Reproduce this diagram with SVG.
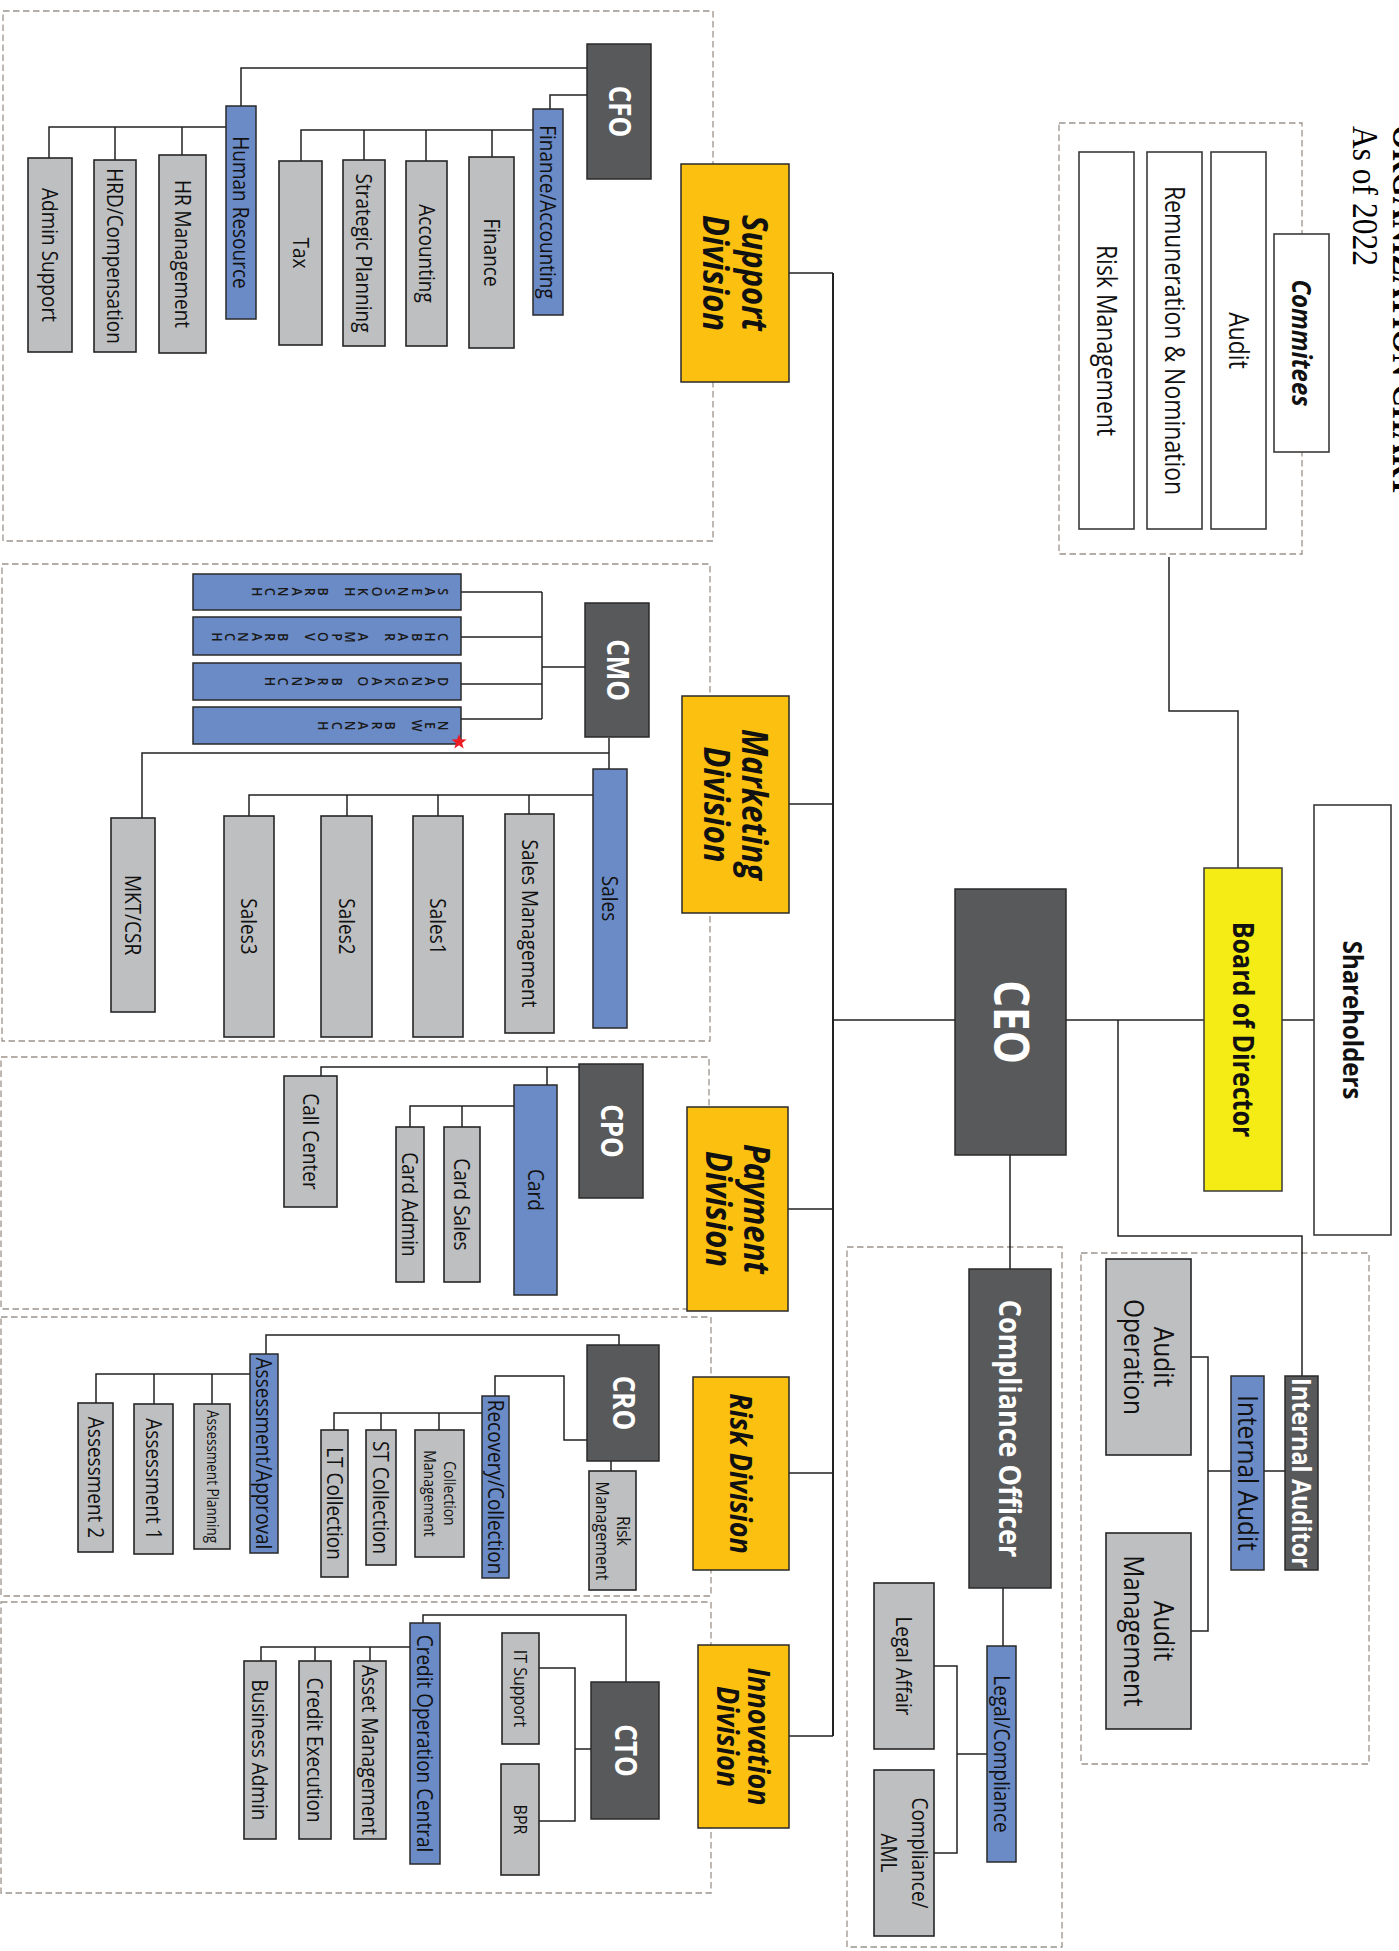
<svg xmlns="http://www.w3.org/2000/svg" width="1399" height="1951" viewBox="0 0 1399 1951">
<style>
.dash{fill:none;stroke:#9d938b;stroke-width:1.3;stroke-dasharray:6.5 3.5}
.gr{fill:#bebfc1;stroke:#262626;stroke-width:1.6}
.bl{fill:#6b8bc6;stroke:#2a2a2a;stroke-width:1.5}
.dk{fill:#58595b;stroke:#2a2a2a;stroke-width:1.5}
.dv{fill:#fcc011;stroke:#2a2a2a;stroke-width:1.5}
.yl{fill:#f6ec15;stroke:#3a3a3a;stroke-width:1.5}
.wh{fill:#ffffff;stroke:#3a3a3a;stroke-width:1.6}
.cn{fill:none;stroke:#222;stroke-width:1.5}
.tr{fill:none;stroke:#222;stroke-width:2}
text{font-family:"Open Sans","Noto Sans","DejaVu Sans",sans-serif;text-anchor:middle;fill:#111}
.t{font-size:19px}
.s23{font-size:23px}
.s24{font-size:24.5px}
.s16{font-size:16px}
.s14{font-size:14px}
.s13{font-size:13.5px}
.br{font-size:12.5px;font-weight:600;fill:#1a1a1a}
.tc{font-size:26px;font-weight:700;fill:#fff}
.tceo{font-size:42px;font-weight:700;fill:#fff}
.tco{font-size:27px;font-weight:700;fill:#fff}
.tia{font-size:23.5px;font-weight:700;fill:#fff}
.tv{font-size:31px;font-weight:700;font-style:italic}
.tv27{font-size:27px;font-weight:700;font-style:italic}
.tbd{font-size:25px;font-weight:700}
.tsh{font-size:24px;font-weight:700}
.tcm{font-size:24px;font-weight:700;font-style:italic}
.serif{font-family:"Liberation Serif","Times New Roman",serif;text-anchor:start;fill:#000;font-size:31.5px}
</style>

<g id="title">
<text class="serif" font-weight="700" transform="translate(1393 125) rotate(90) scale(1 1.15)">ORGANIZATION CHART</text>
<text class="serif" transform="translate(1353 126) rotate(90) scale(1 1.15)">As of 2022</text>
</g>

<g id="regions">
<rect class="dash" x="3" y="11" width="710" height="530"/>
<rect class="dash" x="2" y="564" width="708" height="477"/>
<rect class="dash" x="1" y="1057" width="708" height="252"/>
<rect class="dash" x="1" y="1317" width="710" height="279"/>
<rect class="dash" x="1" y="1602" width="710" height="291"/>
<rect class="dash" x="1059" y="123" width="243" height="431"/>
<rect class="dash" x="847" y="1247" width="215" height="700"/>
<rect class="dash" x="1081" y="1253" width="288" height="511"/>
</g>

<g id="connectors">
<path class="tr" d="M833 273V1736"/>
<path class="cn" d="M587 68H241V106 M587 95H550V109 M533 130H301V161 M364 130V160 M426 130V161 M492 130V157 M226 127H49V158 M115 127V160 M182 127V155 M789 273H833"/>
<path class="cn" d="M461 592H542 M461 637H542 M461 684H542 M461 719H542 M542 592V719 M542 667H585 M609 738V769 M609 753H142V818 M593 795H249V816 M347 795V816 M438 795V816 M529 795V814 M789 804H833"/>
<path class="cn" d="M579 1067H321V1076 M547 1067V1085 M514 1106H410V1127 M462 1106V1127 M788 1209H833"/>
<path class="cn" d="M619 1345V1335H266V1354 M587 1440H564V1376H495V1396 M482 1413H334V1430 M381 1413V1430 M439 1413V1430 M611 1461V1471 M250 1374H96V1403 M154 1374V1404 M212 1374V1404 M789 1473H833"/>
<path class="cn" d="M626 1682V1615H423V1623 M591 1749H575 M539 1668H575V1821H539 M410 1647H261V1661 M315 1647V1661 M370 1647V1661 M789 1736H833"/>
<path class="cn" d="M833 1020H955 M1066 1020H1204 M1282 1020H1314 M1010 1155V1269 M1003 1588V1646 M987 1754H957 M934 1666H957V1853H934 M1169 557V711H1238V868 M1118 1020V1236H1302V1376 M1264 1471H1285 M1231 1471H1208 M1191 1357H1208V1631H1191"/>
</g>

<!-- Support -->
<g id="admin-support"><rect class="gr" x="28" y="158" width="44" height="194"/><text class="t" dy=".35em" transform="translate(50 255) rotate(90) scale(1 1.15)">Admin Support</text></g>
<g id="hrd-compensation"><rect class="gr" x="94" y="160" width="42" height="192"/><text class="t" dy=".35em" transform="translate(115 256) rotate(90) scale(1 1.15)">HRD/Compensation</text></g>
<g id="hr-management"><rect class="gr" x="159" y="155" width="47" height="198"/><text class="t" dy=".35em" transform="translate(182.5 254) rotate(90) scale(1 1.15)">HR Management</text></g>
<g id="human-resource"><rect class="bl" x="226" y="106" width="30" height="213"/><text class="t" dy=".35em" transform="translate(241 212.5) rotate(90) scale(1 1.15)">Human Resource</text></g>
<g id="tax"><rect class="gr" x="279" y="161" width="43" height="184"/><text class="t" dy=".35em" transform="translate(300.5 253) rotate(90) scale(1 1.15)">Tax</text></g>
<g id="strategic-planning"><rect class="gr" x="343" y="160" width="42" height="186"/><text class="t" dy=".35em" transform="translate(364 253) rotate(90) scale(1 1.15)">Strategic Planning</text></g>
<g id="accounting"><rect class="gr" x="406" y="161" width="41" height="185"/><text class="t" dy=".35em" transform="translate(426.5 253.5) rotate(90) scale(1 1.15)">Accounting</text></g>
<g id="finance"><rect class="gr" x="469" y="157" width="45" height="191"/><text class="t" dy=".35em" transform="translate(491.5 252.5) rotate(90) scale(1 1.15)">Finance</text></g>
<g id="finance-accounting"><rect class="bl" x="533" y="109" width="30" height="206"/><text class="t" dy=".35em" transform="translate(548 212) rotate(90) scale(1 1.15)">Finance/Accounting</text></g>
<g id="cfo"><rect class="dk" x="587" y="44" width="64" height="135"/><text class="tc" dy=".35em" transform="translate(619 111.5) rotate(90) scale(1 1.15)">CFO</text></g>
<g id="support-division"><rect class="dv" x="681" y="164" width="108" height="218"/><text class="tv" transform="translate(735 273) rotate(90) scale(1 1.15)"><tspan x="0" y="-16.7" dy=".35em">Support</tspan><tspan x="0" y="16.7" dy=".35em">Division</tspan></text></g>

<!-- Marketing -->
<g id="saensokh-branch"><rect class="bl" x="193" y="574" width="268" height="36"/><text class="br" transform="translate(443.3 591.7) rotate(90) scale(1 1.15)" x="0 0 0 0 0 0 0 0 0 0 0 0 0 0 0" y="4.4 16 27.6 39.2 50.8 62.4 74 85.6 97.2 108.7 120.3 131.9 143.5 155.1 166.7">SAENSOKH BRANCH</text></g>
<g id="chbar-ampov-branch"><rect class="bl" x="193" y="617" width="268" height="38"/><text class="br" transform="translate(443.3 637) rotate(90) scale(1 1.15)" x="0 0 0 0 0 0 0 0 0 0 0 0 0 0 0 0 0 0" y="4.4 16 27.6 39.2 50.8 62.4 74 85.6 97.2 108.7 120.3 131.9 143.5 155.1 166.7 178.3 189.9 201.5">CHBAR AMPOV BRANCH</text></g>
<g id="dangkao-branch"><rect class="bl" x="193" y="663" width="268" height="37"/><text class="br" transform="translate(443.3 681.5) rotate(90) scale(1 1.15)" x="0 0 0 0 0 0 0 0 0 0 0 0 0 0" y="4.4 16 27.6 39.2 50.8 62.4 74 85.6 97.2 108.7 120.3 131.9 143.5 155.1">DANGKAO BRANCH</text></g>
<g id="new-branch"><rect class="bl" x="193" y="707" width="268" height="37"/><text class="br" transform="translate(443.3 725.6) rotate(90) scale(1 1.15)" x="0 0 0 0 0 0 0 0 0 0" y="4.4 16 27.6 39.2 50.8 62.4 74 85.6 97.2 108.7">NEW BRANCH</text>
<polygon fill="#ed1c24" points="459,734 460.9,739.3 466.6,739.5 462.1,743 463.7,748.5 459,745.3 454.3,748.5 455.9,743 451.4,739.5 457.1,739.3"/></g>
<g id="cmo"><rect class="dk" x="585" y="603" width="64" height="134"/><text class="tc" dy=".35em" transform="translate(617 670) rotate(90) scale(1 1.15)">CMO</text></g>
<g id="sales"><rect class="bl" x="593" y="769" width="34" height="259"/><text class="t" dy=".35em" transform="translate(610 898.5) rotate(90) scale(1 1.15)">Sales</text></g>
<g id="mkt-csr"><rect class="gr" x="111" y="818" width="44" height="194"/><text class="t" dy=".35em" transform="translate(133 915) rotate(90) scale(1 1.15)">MKT/CSR</text></g>
<g id="sales3"><rect class="gr" x="224" y="816" width="50" height="221"/><text class="t" dy=".35em" transform="translate(249 926.5) rotate(90) scale(1 1.15)">Sales3</text></g>
<g id="sales2"><rect class="gr" x="321" y="816" width="51" height="221"/><text class="t" dy=".35em" transform="translate(346.5 926.5) rotate(90) scale(1 1.15)">Sales2</text></g>
<g id="sales1"><rect class="gr" x="413" y="816" width="50" height="221"/><text class="t" dy=".35em" transform="translate(438 926.5) rotate(90) scale(1 1.15)">Sales1</text></g>
<g id="sales-management"><rect class="gr" x="505" y="814" width="49" height="219"/><text class="t" dy=".35em" transform="translate(529.5 923.5) rotate(90) scale(1 1.15)">Sales Management</text></g>
<g id="marketing-division"><rect class="dv" x="682" y="696" width="107" height="217"/><text class="tv" transform="translate(735.5 804.5) rotate(90) scale(1 1.15)"><tspan x="0" y="-16.7" dy=".35em">Marketing</tspan><tspan x="0" y="16.7" dy=".35em">Division</tspan></text></g>

<!-- Payment -->
<g id="call-center"><rect class="gr" x="284" y="1076" width="53" height="131"/><text class="t" dy=".35em" transform="translate(310.5 1141.5) rotate(90) scale(1 1.15)">Call Center</text></g>
<g id="card-admin"><rect class="gr" x="396" y="1127" width="28" height="155"/><text class="t" dy=".35em" transform="translate(410 1204.5) rotate(90) scale(1 1.15)">Card Admin</text></g>
<g id="card-sales"><rect class="gr" x="444" y="1127" width="36" height="155"/><text class="t" dy=".35em" transform="translate(462 1204.5) rotate(90) scale(1 1.15)">Card Sales</text></g>
<g id="card"><rect class="bl" x="514" y="1085" width="43" height="210"/><text class="t" dy=".35em" transform="translate(535.5 1190) rotate(90) scale(1 1.15)">Card</text></g>
<g id="cpo"><rect class="dk" x="579" y="1064" width="64" height="134"/><text class="tc" dy=".35em" transform="translate(611 1131) rotate(90) scale(1 1.15)">CPO</text></g>
<g id="payment-division"><rect class="dv" x="687" y="1107" width="101" height="204"/><text class="tv" transform="translate(737.5 1209) rotate(90) scale(1 1.15)"><tspan x="0" y="-16.7" dy=".35em">Payment</tspan><tspan x="0" y="16.7" dy=".35em">Division</tspan></text></g>

<!-- Risk -->
<g id="assessment-2"><rect class="gr" x="78" y="1403" width="35" height="149"/><text class="t" dy=".35em" transform="translate(95.5 1477.5) rotate(90) scale(1 1.15)">Assessment 2</text></g>
<g id="assessment-1"><rect class="gr" x="134" y="1404" width="39" height="150"/><text class="t" dy=".35em" transform="translate(153.5 1479) rotate(90) scale(1 1.15)">Assessment 1</text></g>
<g id="assessment-planning"><rect class="gr" x="194" y="1404" width="36" height="145"/><text class="s13" dy=".35em" transform="translate(212 1476.5) rotate(90) scale(1 1.15)">Assessment Planning</text></g>
<g id="assessment-approval"><rect class="bl" x="250" y="1354" width="28" height="199"/><text class="t" dy=".35em" transform="translate(264 1453.5) rotate(90) scale(1 1.15)">Assessment/Approval</text></g>
<g id="lt-collection"><rect class="gr" x="321" y="1430" width="27" height="147"/><text class="t" dy=".35em" transform="translate(334.5 1503.5) rotate(90) scale(1 1.15)">LT Collection</text></g>
<g id="st-collection"><rect class="gr" x="366" y="1430" width="30" height="135"/><text class="t" dy=".35em" transform="translate(381 1497.5) rotate(90) scale(1 1.15)">ST Collection</text></g>
<g id="collection-management"><rect class="gr" x="415" y="1430" width="49" height="127"/><text class="s14" transform="translate(439.5 1493.5) rotate(90) scale(1 1.15)"><tspan x="0" y="-8.7" dy=".35em">Collection</tspan><tspan x="0" y="8.7" dy=".35em">Management</tspan></text></g>
<g id="recovery-collection"><rect class="bl" x="482" y="1396" width="27" height="182"/><text class="t" dy=".35em" transform="translate(495.5 1487) rotate(90) scale(1 1.15)">Recovery/Collection</text></g>
<g id="cro"><rect class="dk" x="587" y="1345" width="72" height="116"/><text class="tc" dy=".35em" transform="translate(623 1403) rotate(90) scale(1 1.15)">CRO</text></g>
<g id="risk-management"><rect class="gr" x="589" y="1471" width="47" height="119"/><text class="s16" transform="translate(612.5 1531) rotate(90) scale(1 1.15)"><tspan x="0" y="-9.1" dy=".35em">Risk</tspan><tspan x="0" y="9.1" dy=".35em">Management</tspan></text></g>
<g id="risk-division"><rect class="dv" x="693" y="1377" width="96" height="193"/><text class="tv27" dy=".35em" transform="translate(741 1473.5) rotate(90) scale(1 1.15)">Risk Division</text></g>

<!-- Innovation -->
<g id="business-admin"><rect class="gr" x="244" y="1661" width="32" height="178"/><text class="t" dy=".35em" transform="translate(260 1750) rotate(90) scale(1 1.15)">Business Admin</text></g>
<g id="credit-execution"><rect class="gr" x="299" y="1661" width="32" height="178"/><text class="t" dy=".35em" transform="translate(315 1750) rotate(90) scale(1 1.15)">Credit Execution</text></g>
<g id="asset-management"><rect class="gr" x="354" y="1661" width="32" height="178"/><text class="t" dy=".35em" transform="translate(370 1750) rotate(90) scale(1 1.15)">Asset Management</text></g>
<g id="credit-operation-central"><rect class="bl" x="410" y="1623" width="30" height="241"/><text class="t" dy=".35em" transform="translate(425 1743.5) rotate(90) scale(1 1.15)">Credit Operation Central</text></g>
<g id="it-support"><rect class="gr" x="502" y="1633" width="37" height="111"/><text class="s16" dy=".35em" transform="translate(520.5 1688.5) rotate(90) scale(1 1.15)">IT Support</text></g>
<g id="bpr"><rect class="gr" x="501" y="1764" width="38" height="111"/><text class="s16" dy=".35em" transform="translate(520 1819.5) rotate(90) scale(1 1.15)">BPR</text></g>
<g id="cto"><rect class="dk" x="591" y="1682" width="68" height="137"/><text class="tc" dy=".35em" transform="translate(625 1750.5) rotate(90) scale(1 1.15)">CTO</text></g>
<g id="innovation-division"><rect class="dv" x="698" y="1645" width="91" height="183"/><text class="tv27" transform="translate(743.5 1736.5) rotate(90) scale(1 1.15)"><tspan x="0" y="-13.5" dy=".35em">Innovation</tspan><tspan x="0" y="13.5" dy=".35em">Division</tspan></text></g>

<!-- Top management -->
<g id="ceo"><rect class="dk" x="955" y="889" width="111" height="266"/><text class="tceo" dy=".35em" transform="translate(1010.5 1022) rotate(90) scale(1 1.15)">CEO</text></g>
<g id="board-of-director"><rect class="yl" x="1204" y="868" width="78" height="323"/><text class="tbd" dy=".35em" transform="translate(1243 1029.5) rotate(90) scale(1 1.15)">Board of Director</text></g>
<g id="shareholders"><rect class="wh" x="1314" y="805" width="77" height="430"/><text class="tsh" dy=".35em" transform="translate(1352.5 1020) rotate(90) scale(1 1.15)">Shareholders</text></g>

<!-- Committees -->
<g id="risk-management-committee"><rect class="wh" x="1079" y="152" width="55" height="377"/><text class="s23" dy=".35em" transform="translate(1106.5 340.5) rotate(90) scale(1 1.15)">Risk Management</text></g>
<g id="remuneration-nomination"><rect class="wh" x="1147" y="152" width="55" height="377"/><text class="s23" dy=".35em" transform="translate(1174.5 340.5) rotate(90) scale(1 1.15)">Remuneration &amp; Nomination</text></g>
<g id="audit-committee"><rect class="wh" x="1211" y="152" width="55" height="377"/><text class="s23" dy=".35em" transform="translate(1238.5 340.5) rotate(90) scale(1 1.15)">Audit</text></g>
<g id="committees"><rect class="wh" x="1274" y="234" width="55" height="218"/><text class="tcm" dy=".35em" transform="translate(1301.5 343) rotate(90) scale(1 1.15)">Commitees</text></g>

<!-- Compliance -->
<g id="compliance-officer"><rect class="dk" x="969" y="1269" width="82" height="319"/><text class="tco" dy=".35em" transform="translate(1010 1428.5) rotate(90) scale(1 1.15)">Compliance Officer</text></g>
<g id="legal-compliance"><rect class="bl" x="987" y="1646" width="29" height="216"/><text class="t" dy=".35em" transform="translate(1001.5 1754) rotate(90) scale(1 1.15)">Legal/Compliance</text></g>
<g id="legal-affair"><rect class="gr" x="874" y="1583" width="60" height="166"/><text class="t" dy=".35em" transform="translate(904 1666) rotate(90) scale(1 1.15)">Legal Affair</text></g>
<g id="compliance-aml"><rect class="gr" x="874" y="1770" width="60" height="166"/><text class="t" transform="translate(904 1853) rotate(90) scale(1 1.15)"><tspan x="0" y="-13.5" dy=".35em">Compliance/</tspan><tspan x="0" y="13.5" dy=".35em">AML</tspan></text></g>

<!-- Audit -->
<g id="internal-auditor"><rect class="dk" x="1285" y="1376" width="33" height="194"/><text class="tia" dy=".35em" transform="translate(1301.5 1473) rotate(90) scale(1 1.15)">Internal Auditor</text></g>
<g id="internal-audit"><rect class="bl" x="1231" y="1376" width="33" height="194"/><text class="s24" dy=".35em" transform="translate(1247.5 1473) rotate(90) scale(1 1.15)">Internal Audit</text></g>
<g id="audit-operation"><rect class="gr" x="1106" y="1259" width="85" height="196"/><text class="s24" transform="translate(1148.5 1357) rotate(90) scale(1 1.15)"><tspan x="0" y="-13" dy=".35em">Audit</tspan><tspan x="0" y="13" dy=".35em">Operation</tspan></text></g>
<g id="audit-management"><rect class="gr" x="1106" y="1533" width="85" height="196"/><text class="s24" transform="translate(1148.5 1631) rotate(90) scale(1 1.15)"><tspan x="0" y="-13" dy=".35em">Audit</tspan><tspan x="0" y="13" dy=".35em">Management</tspan></text></g>
</svg>
